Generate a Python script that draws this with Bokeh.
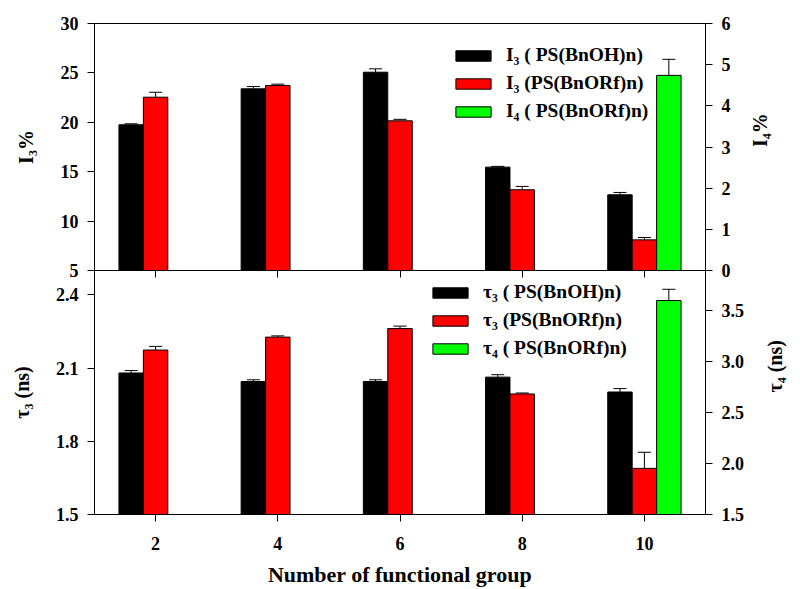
import math
from bokeh.plotting import figure
from bokeh.models import (Range1d, LinearAxis, FixedTicker, Whisker, TeeHead,
                          ColumnDataSource, Legend, LegendItem, NumeralTickFormatter)
from bokeh.layouts import column
from bokeh.transform import dodge
from bokeh.embed import file_html
from bokeh.resources import INLINE

# ---------------- data ----------------
groups = [2, 4, 6, 8, 10]
tick_x = [2, 4, 6, 8, 10]

i3_bnoh = [19.75, 23.39, 25.07, 15.46, 12.66]
i3_bnoh_err = [0.10, 0.23, 0.34, 0.08, 0.24]
i3_bnorf = [22.54, 23.73, 20.15, 13.17, 8.10]
i3_bnorf_err = [0.50, 0.13, 0.15, 0.34, 0.24]
i4_groups = [10]
i4_bnorf = [4.74]
i4_bnorf_err = [0.39]

tau3_bnoh = [2.080, 2.045, 2.045, 2.063, 2.002]
tau3_bnoh_err = [0.010, 0.007, 0.007, 0.010, 0.014]
tau3_bnorf = [2.174, 2.227, 2.262, 1.994, 1.689]
tau3_bnorf_err = [0.015, 0.005, 0.010, 0.004, 0.066]
tau4_groups = [10]
tau4_bnorf = [3.596]
tau4_bnorf_err = [0.11]

top_left_ticks = [5, 10, 15, 20, 25, 30]
top_right_ticks = [0, 1, 2, 3, 4, 5, 6]
bot_left_ticks = [1.5, 1.8, 2.1, 2.4]
bot_right_ticks = [1.5, 2.0, 2.5, 3.0, 3.5]

FONT = "Liberation Serif"
BAR_W = 0.4
OVERLAP = 12


def src(xs, vals, errs):
    return ColumnDataSource(dict(x=xs, v=vals, hi=[a + b for a, b in zip(vals, errs)]))


def style_axis(ax, ticks, fmt=None):
    ax.ticker = FixedTicker(ticks=ticks)
    ax.major_tick_out = 7
    ax.major_tick_in = 0
    ax.minor_tick_line_color = None
    ax.axis_line_color = "black"
    ax.major_tick_line_color = "black"
    ax.major_label_text_font = FONT
    ax.major_label_text_font_style = "bold"
    ax.major_label_text_font_size = "18px"
    ax.major_label_text_color = "black"
    ax.major_label_standoff = 9
    ax.axis_label_text_font = FONT
    ax.axis_label_text_font_style = "bold"
    ax.axis_label_text_font_size = "20px"
    ax.axis_label_text_color = "black"
    if fmt:
        ax.formatter = NumeralTickFormatter(format=fmt)


def bars(p, xs_src, offset, color, bottom, y_range_name="default"):
    r = p.vbar(x=dodge("x", offset, range=p.x_range), top="v", bottom=bottom,
               width=BAR_W, source=xs_src, fill_color=color, line_color="black",
               line_width=1, y_range_name=y_range_name)
    w = Whisker(source=xs_src, base=dodge("x", offset, range=p.x_range),
                lower="v", upper="hi", line_color="black", line_width=1,
                upper_head=TeeHead(size=13, line_color="black", line_width=1),
                lower_head=None, y_range_name=y_range_name)
    p.add_layout(w)
    return r


def make_legend(p, items, loc):
    lg = Legend(items=items, location=loc, orientation="vertical",
                glyph_width=44, glyph_height=13, label_standoff=11,
                spacing=6, padding=0, margin=0, label_height=22,
                border_line_color=None, background_fill_alpha=0,
                label_text_font=FONT, label_text_font_style="bold",
                label_text_font_size="19.5px", label_text_color="black")
    p.add_layout(lg, "center")


x_range = Range1d(1, 11)

# ---------------- top panel ----------------
top = figure(width=800, height=270 + OVERLAP, x_range=x_range, y_range=Range1d(5, 30),
             output_backend="svg", toolbar_location=None,
             min_border_left=94, min_border_right=90, min_border_top=23,
             min_border_bottom=OVERLAP)
top.margin = (0, 0, -OVERLAP, 0)
top.extra_y_ranges = {"r": Range1d(0, 6)}
top.grid.visible = False
top.outline_line_color = "black"
top.background_fill_color = "white"
top.border_fill_color = "white"
xa = top.xaxis[0]
xa.ticker = FixedTicker(ticks=[], minor_ticks=tick_x)
xa.minor_tick_out = 7
xa.minor_tick_in = 0
xa.minor_tick_line_color = "black"
xa.major_tick_line_color = None
xa.major_tick_out = 0
xa.major_label_standoff = 0
xa.axis_line_color = "black"
style_axis(top.yaxis[0], top_left_ticks)
top.yaxis[0].axis_label = "I\u2083%"
top.yaxis[0].axis_label_standoff = 21
ra = LinearAxis(y_range_name="r", axis_label="I\u2084%")
style_axis(ra, top_right_ticks)
ra.axis_label_standoff = 26
ra.axis_label_orientation = math.pi / 2
top.add_layout(ra, "right")

r1 = bars(top, src(groups, i3_bnoh, i3_bnoh_err), -0.4, "black", 5)
r2 = bars(top, src(groups, i3_bnorf, i3_bnorf_err), 0.0, "#FF0000", 5)
r3 = bars(top, src(i4_groups, i4_bnorf, i4_bnorf_err), 0.4, "#00FF00", 0, "r")
make_legend(top, [LegendItem(label="I\u2083 ( PS(BnOH)n)", renderers=[r1]),
                  LegendItem(label="I\u2083 (PS(BnORf)n)", renderers=[r2]),
                  LegendItem(label="I\u2084 ( PS(BnORf)n)", renderers=[r3])],
            (357, 148))

# ---------------- bottom panel ----------------
bot = figure(width=800, height=319, x_range=x_range, y_range=Range1d(1.5, 2.5),
             output_backend="svg", toolbar_location=None,
             min_border_left=94, min_border_right=90, min_border_top=0,
             min_border_bottom=74)
bot.extra_y_ranges = {"r": Range1d(1.5, 3.89)}
bot.grid.visible = False
bot.outline_line_color = "black"
bot.background_fill_color = None
bot.border_fill_color = None
style_axis(bot.xaxis[0], tick_x)
bot.xaxis[0].major_label_standoff = 15
bot.xaxis[0].axis_label = "Number of functional group"
bot.xaxis[0].axis_label_text_font_size = "22px"
bot.xaxis[0].axis_label_standoff = 9
style_axis(bot.yaxis[0], bot_left_ticks, "0.0")
bot.yaxis[0].axis_label = "\u03c4\u2083 (ns)"
bot.yaxis[0].axis_label_standoff = 20
rb = LinearAxis(y_range_name="r", axis_label="\u03c4\u2084 (ns)")
style_axis(rb, bot_right_ticks, "0.0")
rb.axis_label_standoff = 28
rb.axis_label_orientation = math.pi / 2
bot.add_layout(rb, "right")

b1 = bars(bot, src(groups, tau3_bnoh, tau3_bnoh_err), -0.4, "black", 1.5)
b2 = bars(bot, src(groups, tau3_bnorf, tau3_bnorf_err), 0.0, "#FF0000", 1.5)
b3 = bars(bot, src(tau4_groups, tau4_bnorf, tau4_bnorf_err), 0.4, "#00FF00", 1.5, "r")
make_legend(bot, [LegendItem(label="\u03c4\u2083 ( PS(BnOH)n)", renderers=[b1]),
                  LegendItem(label="\u03c4\u2083 (PS(BnORf)n)", renderers=[b2]),
                  LegendItem(label="\u03c4\u2084 ( PS(BnORf)n)", renderers=[b3])],
            (334, 155))

layout = column(top, bot, spacing=0)
open("out.html", "w").write(file_html(layout, INLINE))
